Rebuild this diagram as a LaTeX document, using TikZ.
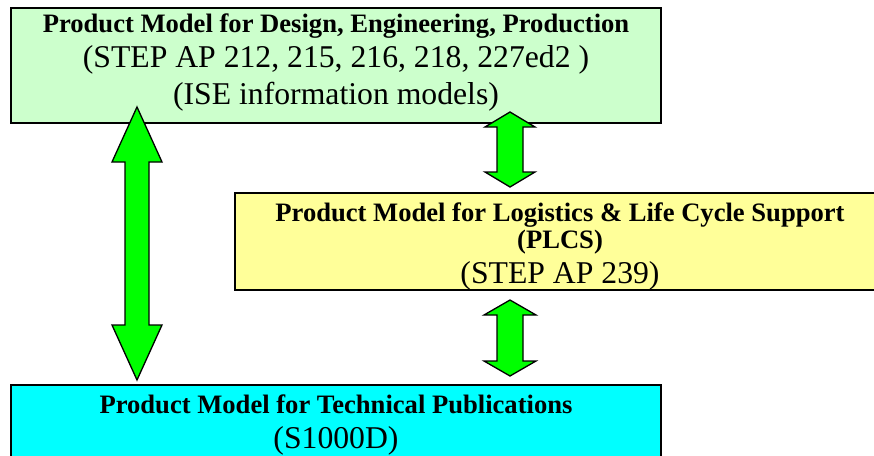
\documentclass[tikz,border=0pt]{standalone}
\usepackage{fontspec}
\setmainfont{Liberation Serif}

\definecolor{designfill}{RGB}{204,255,204}
\definecolor{plcsfill}{RGB}{255,255,153}
\definecolor{pubfill}{RGB}{0,255,255}
\definecolor{linkgreen}{RGB}{0,255,0}

\newcommand\titlefont{\fontsize{26.6}{30}\selectfont\bfseries}
\newcommand\bodyfont{\fontsize{31.7}{36}\selectfont}

% vertical double block arrow: x, top tip, bottom tip, shaft half width, head half width, head length
\newcommand\blockarrow[6]{%
  \draw[linkbody]
    (#1,#2) -- (#1+#5,#2+#6) -- (#1+#4,#2+#6) -- (#1+#4,#3-#6) -- (#1+#5,#3-#6)
    -- (#1,#3) -- (#1-#5,#3-#6) -- (#1-#4,#3-#6) -- (#1-#4,#2+#6) -- (#1-#5,#2+#6) -- cycle;}

\begin{document}
\begin{tikzpicture}[x=1pt,y=-1pt,
  box/.style={draw=black, line width=1.6pt, rectangle, inner sep=0pt},
  line/.style={inner sep=0pt, anchor=base, text=black},
  linkbody/.style={draw=black, line width=1.3pt, fill=linkgreen, line join=miter}]
\useasboundingbox (0,0) rectangle (874,455);
\clip (0,0) rectangle (874,455);

% model boxes
\node[box, fill=designfill, minimum width=650pt, minimum height=115pt] (design) at (336,65.5) {};
\node[box, fill=plcsfill, minimum width=650pt, minimum height=97pt] (plcs) at (560,241.5) {};
\node[box, fill=pubfill, minimum width=650pt, minimum height=140pt] (pub) at (336,455) {};

% links between the models
\blockarrow{137}{107}{380}{12}{25}{55}
\blockarrow{510}{112}{187}{13}{25}{15}
\blockarrow{510}{300}{376}{13}{26}{15}

% design / engineering / production
\node[line] (design-title) at (336,32) {\titlefont Product Model for Design, Engineering, Production};
\node[line] (design-aps) at (336,67) {\bodyfont (STEP AP 212, 215, 216, 218, 227ed2 )};
\node[line] (design-ise) at (336,104) {\bodyfont (ISE information models)};

% logistics and life cycle support
\node[line] (plcs-title) at (560,221) {\titlefont Product Model for Logistics \& Life Cycle Support};
\node[line] (plcs-abbr) at (560,248) {\titlefont (PLCS)};
\node[line] (plcs-ap) at (560,283) {\bodyfont (STEP AP 239)};

% technical publications
\node[line] (pub-title) at (336,413) {\titlefont Product Model for Technical Publications};
\node[line] (pub-spec) at (336,448) {\bodyfont (S1000D)};
\end{tikzpicture}
\end{document}
